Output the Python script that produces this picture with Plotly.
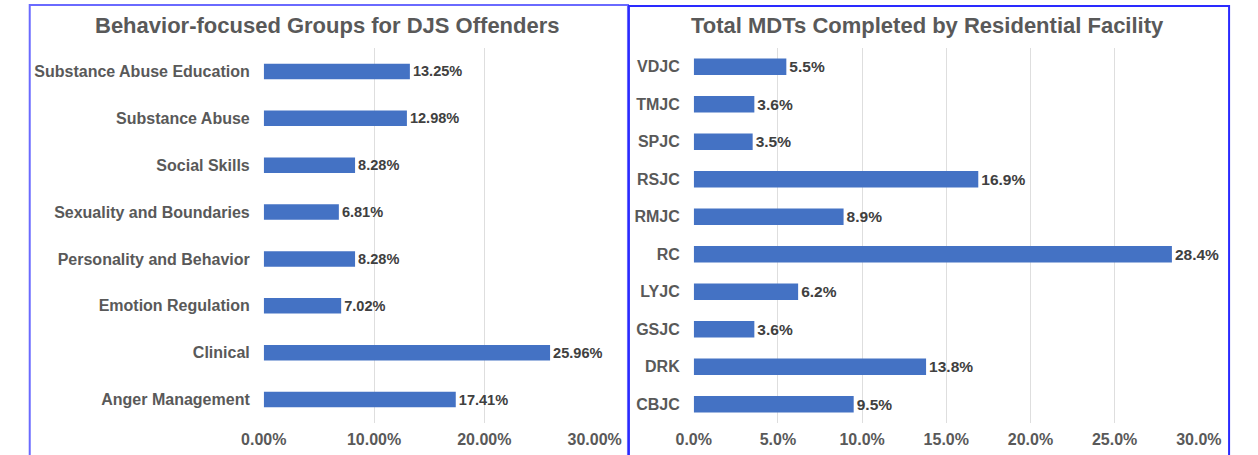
import plotly.graph_objects as go

W, H = 1258, 455

# Left chart data (bottom to top)
left_categories = ["Anger Management", "Clinical", "Emotion Regulation",
                   "Personality and Behavior", "Sexuality and Boundaries",
                   "Social Skills", "Substance Abuse", "Substance Abuse Education"]
left_values = [17.41, 25.96, 7.02, 8.28, 6.81, 8.28, 12.98, 13.25]
left_ticks = [0, 10, 20, 30]

# Right chart data (bottom to top)
right_categories = ["CBJC", "DRK", "GSJC", "LYJC", "RC", "RMJC", "RSJC", "SPJC", "TMJC", "VDJC"]
right_values = [9.5, 13.8, 3.6, 6.2, 28.4, 8.9, 16.9, 3.5, 3.6, 5.5]
right_ticks = [0, 5, 10, 15, 20, 25, 30]

left_title = "Behavior-focused Groups for DJS Offenders"
right_title = "Total MDTs Completed by Residential Facility"

FONT = "Liberation Sans, Arial, sans-serif"
BAR = "#4472C4"
GRAY = "#595959"
DARK = "#404040"
GRID = "#dedede"

fig = go.Figure()

fig.add_trace(go.Bar(
    x=left_values, y=left_categories, orientation="h",
    marker=dict(color=BAR, line=dict(width=0)), width=0.33,
    text=[f"{v:.2f}%" for v in left_values], textposition="outside",
    textfont=dict(family=FONT, size=16, color=DARK, weight="bold"),
    cliponaxis=False, xaxis="x", yaxis="y", showlegend=False,
))
fig.add_trace(go.Bar(
    x=right_values, y=right_categories, orientation="h",
    marker=dict(color=BAR, line=dict(width=0)), width=0.44,
    text=[f"{v:.1f}%" for v in right_values], textposition="outside",
    textfont=dict(family=FONT, size=16, color=DARK, weight="bold"),
    cliponaxis=False, xaxis="x2", yaxis="y2", showlegend=False,
))

def px_x(p):
    return p / W

def px_y(p):
    return 1 - p / H

tickfont = dict(family=FONT, size=16, color=GRAY, weight="bold")

fig.update_layout(
    width=W, height=H,
    margin=dict(l=0, r=0, t=0, b=0),
    paper_bgcolor="white", plot_bgcolor="white",
    font=dict(family=FONT),
    xaxis=dict(domain=[px_x(250.7), px_x(595.3)], range=[0, 30],
               tickvals=left_ticks, ticktext=[f"{t:.2f}%" for t in left_ticks],
               showgrid=True, gridcolor=GRID, gridwidth=1, zeroline=False,
               showline=False, tickfont=tickfont, anchor="y", ticklabelstandoff=5),
    yaxis=dict(domain=[px_y(423), px_y(48)], showgrid=False, zeroline=False,
               showline=False, tickfont=tickfont, ticklabelstandoff=13,
               anchor="x"),
    xaxis2=dict(domain=[px_x(698.5), px_x(1224.5)], range=[0, 30],
                tickvals=right_ticks, ticktext=[f"{t:.1f}%" for t in right_ticks],
                showgrid=True, gridcolor=GRID, gridwidth=1, zeroline=False,
                showline=False, tickfont=tickfont, anchor="y2", ticklabelstandoff=5),
    yaxis2=dict(domain=[px_y(423), px_y(48)], showgrid=False, zeroline=False,
                showline=False, tickfont=tickfont, ticklabelstandoff=13,
                anchor="x2"),
)

fig.add_annotation(text=left_title, x=px_x(317.5), y=px_y(25), xref="paper", yref="paper",
                   showarrow=False, xanchor="center", yanchor="middle",
                   font=dict(family=FONT, size=22, color=GRAY, weight="bold"))
fig.add_annotation(text=right_title, x=px_x(942), y=px_y(25), xref="paper", yref="paper",
                   showarrow=False, xanchor="center", yanchor="middle",
                   font=dict(family=FONT, size=22, color=GRAY, weight="bold"))

# panel borders
fig.add_shape(type="path", xref="paper", yref="paper",
              path=f"M {px_x(7)} {px_y(460)} L {px_x(7)} {px_y(5)} L {px_x(630)} {px_y(5)} L {px_x(630)} {px_y(460)}",
              line=dict(color="#6a6aff", width=2))
fig.add_shape(type="path", xref="paper", yref="paper",
              path=f"M {px_x(631)} {px_y(460)} L {px_x(631)} {px_y(6)} L {px_x(1256)} {px_y(6)} L {px_x(1256)} {px_y(460)}",
              line=dict(color="#2a2aff", width=2))

fig.write_html("out.html", config={"displayModeBar": False},
               post_script="document.body.style.margin='0';document.body.style.overflow='hidden';")
